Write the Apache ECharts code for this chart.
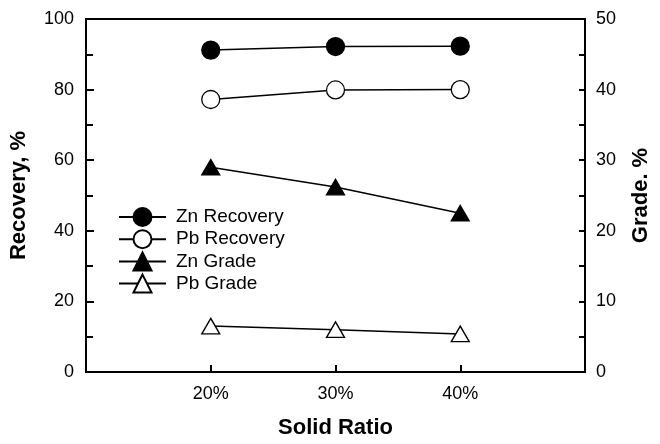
<!DOCTYPE html>
<html><head><meta charset="utf-8">
<script src="https://cdn.jsdelivr.net/npm/echarts@6/dist/echarts.min.js"></script>
<style>html,body{margin:0;padding:0;background:#fff}#c{width:660px;height:444px}</style>
</head><body><div id="c"></div>
<script>
const xValues = [20, 30, 40];
const znRecovery = [91.2, 92.2, 92.3];
const pbRecovery = [77.2, 79.9, 80.0];
const znGrade = [29.0, 26.2, 22.5];
const pbGrade = [6.5, 6.0, 5.4];
const seriesNames = ['Zn Recovery', 'Pb Recovery', 'Zn Grade', 'Pb Grade'];

const FONT = 'Liberation Sans, Arial, Helvetica, sans-serif';
const pair = (vals) => xValues.map((x, i) => [x, vals[i]]);

function mkSeries(name, vals, axis, symbol, fill, size) {
  return {
    name, type: 'line', yAxisIndex: axis, data: pair(vals),
    symbol, symbolSize: size, showAllSymbol: true,
    color: '#000',
    lineStyle: { color: '#000', width: 1.5 },
    itemStyle: { color: fill, borderColor: '#000', borderWidth: 1.3 },
    emphasis: { disabled: true }, animation: false, z: 3
  };
}

const chart = echarts.init(document.getElementById('c'), null, { renderer: 'canvas' });
chart.setOption({
  animation: false,
  backgroundColor: '#fff',
  textStyle: { fontFamily: FONT },
  grid: { left: 86, right: 69, top: 19, bottom: 66, show: true, borderColor: '#000', borderWidth: 2, backgroundColor: 'transparent' },
  legend: {
    orient: 'vertical', left: 113, top: 202,
    itemWidth: 47, itemHeight: 22.5, itemGap: 2.2,
    textStyle: { fontFamily: FONT, fontSize: 19, color: '#000', padding: [0, 0, 0, 5] },
    data: seriesNames
  },
  xAxis: {
    type: 'value', min: 10, max: 50, interval: 10,
    name: 'Solid Ratio', nameLocation: 'middle', nameGap: 45,
    nameTextStyle: { fontFamily: FONT, fontSize: 22, fontWeight: 'bold', color: '#000' },
    axisLine: { lineStyle: { color: '#000', width: 2 } },
    axisTick: { inside: true, length: 7, lineStyle: { color: '#000', width: 2 } },
    axisLabel: { fontFamily: FONT, fontSize: 18, color: '#000', margin: 13, showMinLabel: false, showMaxLabel: false,
      formatter: v => (v === 10 || v === 50) ? '' : v + '%' },
    splitLine: { show: false }
  },
  yAxis: [
    {
      type: 'value', min: 0, max: 100, interval: 20, position: 'left',
      name: 'Recovery, %', nameLocation: 'middle', nameGap: 56,
      nameTextStyle: { fontFamily: FONT, fontSize: 22, fontWeight: 'bold', color: '#000' },
      axisLine: { show: true, lineStyle: { color: '#000', width: 2 } },
      axisTick: { show: true, inside: true, length: 8, lineStyle: { color: '#000', width: 2 } },
      minorTick: { show: true, splitNumber: 2, length: 7, lineStyle: { color: '#000', width: 2 } },
      axisLabel: { fontFamily: FONT, fontSize: 18, color: '#000', margin: 12 },
      splitLine: { show: false }
    },
    {
      type: 'value', min: 0, max: 50, interval: 10, position: 'right',
      name: 'Grade. %', nameLocation: 'middle', nameGap: 45,
      nameTextStyle: { fontFamily: FONT, fontSize: 22, fontWeight: 'bold', color: '#000' },
      axisLine: { show: true, lineStyle: { color: '#000', width: 2 } },
      axisTick: { show: true, inside: true, length: 6, lineStyle: { color: '#000', width: 2 } },
      minorTick: { show: true, splitNumber: 2, length: 6, lineStyle: { color: '#000', width: 2 } },
      axisLabel: { fontFamily: FONT, fontSize: 18, color: '#000', margin: 11 },
      splitLine: { show: false }
    }
  ],
  series: [
    mkSeries(seriesNames[0], znRecovery, 0, 'circle', '#000', 18),
    mkSeries(seriesNames[1], pbRecovery, 0, 'circle', '#fff', 18),
    mkSeries(seriesNames[2], znGrade, 1, 'triangle', '#000', [18, 15.5]),
    mkSeries(seriesNames[3], pbGrade, 1, 'triangle', '#fff', [18, 15.5])
  ]
});
</script></body></html>
